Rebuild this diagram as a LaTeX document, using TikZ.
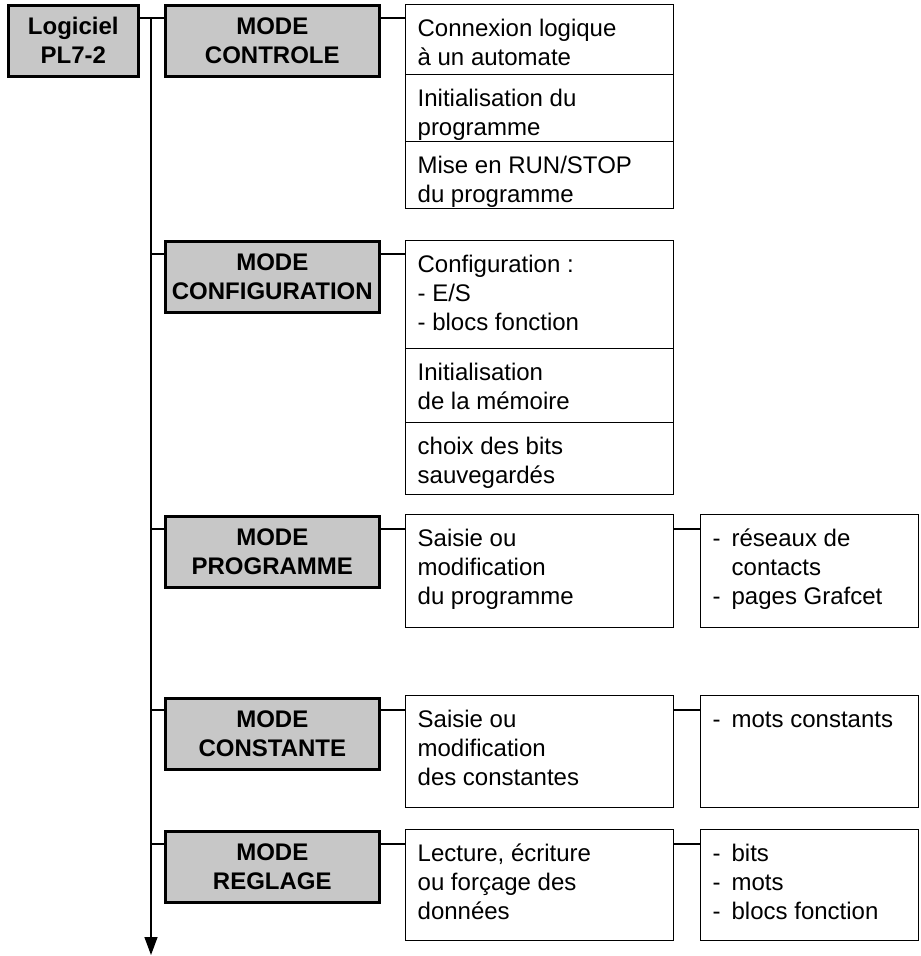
\documentclass[tikz,border=0pt]{standalone}
\usepackage{fontspec}
\setmainfont{Liberation Sans}
\usetikzlibrary{arrows.meta}

\newcommand{\celltxt}[3]{\parbox[t][#2][t]{#1}{\raggedright\strut#3}}
\newcommand{\itemdash}{\makebox[9.5pt][l]{-}}

\begin{document}
\begin{tikzpicture}[x=0.5pt,y=-0.5pt,font=\fontsize{12}{14.5}\selectfont]
%\draw[help lines,step=50] (0,0) grid (920,956);
\tikzstyle{mode}=[rectangle,draw,line width=1.3pt,fill=black!22,anchor=north west,align=center,font=\fontsize{12}{14.5}\selectfont\bfseries,minimum width=107pt,minimum height=35.5pt,inner sep=0pt]
\tikzstyle{cell}=[rectangle,draw,line width=0.65pt,anchor=north west,inner sep=6pt]
\tikzstyle{wire}=[line width=0.7pt]

\useasboundingbox (0,0) rectangle (920,956);

\node[mode,minimum width=65pt] (pl7) at (7,4) {Logiciel\\PL7-2};

\node[mode] (controle) at (164,4) {MODE\\CONTROLE};
\node[mode] (config) at (164,240) {MODE\\CONFIGURATION};
\node[mode] (programme) at (164,515) {MODE\\PROGRAMME};
\node[mode] (constante) at (164,697) {MODE\\CONSTANTE};
\node[mode] (reglage) at (164,830) {MODE\\REGLAGE};

% mode controle
\node[cell] (connexion) at (405,4) {\celltxt{122pt}{23pt}{Connexion logique\\à un automate}};
\node[cell] (initprog) at (405,74) {\celltxt{122pt}{21.5pt}{Initialisation du\\programme}};
\node[cell] (runstop) at (405,141) {\celltxt{122pt}{21.5pt}{Mise en RUN/STOP\\du programme}};

% mode configuration
\node[cell] (configES) at (405,240) {\celltxt{122pt}{42pt}{Configuration :\\- E/S\\- blocs fonction}};
\node[cell] (initmem) at (405,348) {\celltxt{122pt}{25pt}{Initialisation\\de la mémoire}};
\node[cell] (choixbits) at (405,422) {\celltxt{122pt}{24pt}{choix des bits\\sauvegardés}};

% mode programme
\node[cell] (saisieprog) at (405,514) {\celltxt{122pt}{44.5pt}{Saisie ou\\modification\\du programme}};
\node[cell] (reseaux) at (700,514) {\celltxt{97pt}{44.5pt}{\itemdash réseaux de\\\hspace*{9.5pt}contacts\\\itemdash pages Grafcet}};

% mode constante
\node[cell] (saisiecst) at (405,695) {\celltxt{122pt}{44pt}{Saisie ou\\modification\\des constantes}};
\node[cell] (motscst) at (700,695) {\celltxt{97pt}{44pt}{\itemdash mots constants}};

% mode reglage
\node[cell] (lecture) at (405,829) {\celltxt{122pt}{43.5pt}{Lecture, écriture\\ou forçage des\\données}};
\node[cell] (donnees) at (700,829) {\celltxt{97pt}{43.5pt}{\itemdash bits\\\itemdash mots\\\itemdash blocs fonction}};

\coordinate (j1) at (151,18);
\coordinate (j2) at (151,254);
\coordinate (j3) at (151,529);
\coordinate (j4) at (151,710);
\coordinate (j5) at (151,844);
\coordinate (fin) at (151,955);

\draw[wire,-{Triangle[width=6.5pt,length=9pt]}] (j1) -- (fin);

\draw[wire] (pl7.east |- j1) -- (j1 -| controle.west);
\draw[wire] (controle.east |- j1) -- (j1 -| connexion.west);

\draw[wire] (j2) -- (j2 -| config.west);
\draw[wire] (config.east |- j2) -- (j2 -| configES.west);

\draw[wire] (j3) -- (j3 -| programme.west);
\draw[wire] (programme.east |- j3) -- (j3 -| saisieprog.west);
\draw[wire] (saisieprog.east |- j3) -- (j3 -| reseaux.west);

\draw[wire] (j4) -- (j4 -| constante.west);
\draw[wire] (constante.east |- j4) -- (j4 -| saisiecst.west);
\draw[wire] (saisiecst.east |- j4) -- (j4 -| motscst.west);

\draw[wire] (j5) -- (j5 -| reglage.west);
\draw[wire] (reglage.east |- j5) -- (j5 -| lecture.west);
\draw[wire] (lecture.east |- j5) -- (j5 -| donnees.west);
\end{tikzpicture}
\end{document}
